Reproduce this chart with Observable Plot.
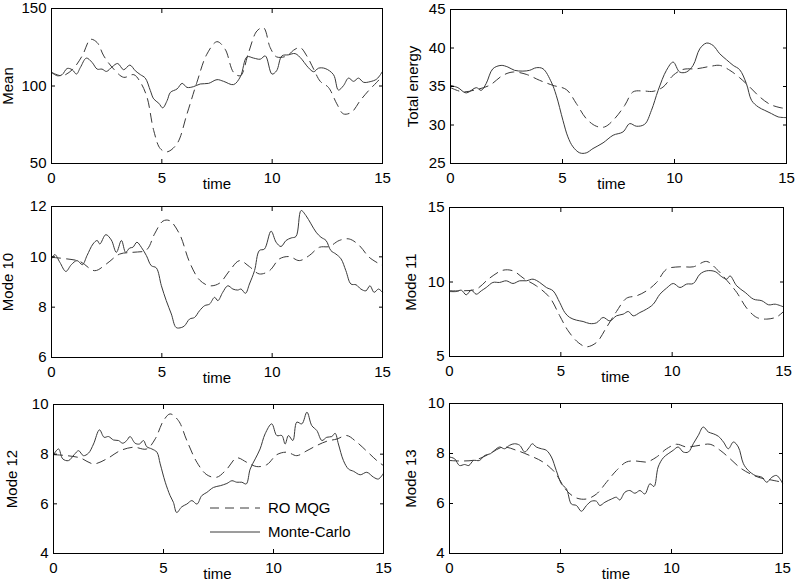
<!DOCTYPE html>
<html><head><meta charset="utf-8">
<script src="https://cdn.jsdelivr.net/npm/d3@7"></script>
<script src="https://cdn.jsdelivr.net/npm/@observablehq/plot@0.6"></script>
<style>
html,body{margin:0;padding:0;background:#fff;}
#wrap{position:relative;width:796px;height:582px;overflow:hidden;font-family:"Liberation Sans",Arial,Helvetica,sans-serif;}
.cell{position:absolute;}
.legend{position:absolute;left:210px;top:496px;font-size:15px;color:#000;line-height:24px;}
.legend div{display:flex;align-items:center;height:24px;}
.legend svg{margin-right:8px;}
</style></head><body><div id="wrap"></div>
<script>
// ---- data: [time, value] pairs ----
const timeTicks = [0, 5, 10, 15];
const seriesNames = ["RO MQG", "Monte-Carlo"];
const panelLabels = ["Mean", "Total energy", "Mode 10", "Mode 11", "Mode 12", "Mode 13"];
const meanTicks = [50, 100, 150];
const energyTicks = [25, 30, 35, 40, 45];
const mode10Ticks = [6, 8, 10, 12];
const mode11Ticks = [5, 10, 15];
const mode12Ticks = [4, 6, 8, 10];
const mode13Ticks = [4, 6, 8, 10];

const meanMC = [[0,108.8],[0.26,106.6],[0.48,107.3],[0.71,111.3],[0.94,110.5],[1.13,107.7],[1.31,112],[1.58,118],[1.84,115.2],[2.07,110.9],[2.29,110.9],[2.49,109.4],[2.75,112.4],[3.0,114.5],[3.27,110.5],[3.55,113.5],[3.8,109.8],[4.03,107.3],[4.25,105.1],[4.48,97],[4.63,91.7],[4.86,88.9],[5.04,85.9],[5.24,90.6],[5.39,95.9],[5.69,98.1],[5.92,101.7],[6.14,99.1],[6.44,99.6],[6.74,101.3],[7.12,101.7],[7.5,104.1],[7.8,103],[8.25,100.9],[8.56,106],[8.86,118.8],[9.16,118],[9.46,117.3],[9.69,119.4],[9.99,107.7],[10.2,109.8],[10.44,119.4],[10.74,120.1],[11.04,120.9],[11.34,117.3],[11.57,113],[11.88,109.2],[12.1,111.5],[12.4,111.3],[12.78,107.3],[13.0,97.4],[13.23,100.2],[13.46,105.1],[13.69,103],[13.91,105.1],[14.14,102.4],[14.44,102.8],[14.74,104.5],[15,109.4]];
const meanRO = [[0,108.8],[0.48,106.6],[0.94,110.5],[1.39,119.4],[1.77,130.1],[2.07,128],[2.37,119.4],[2.82,110.9],[3.27,105.6],[3.73,107.3],[4.03,102.4],[4.33,92.7],[4.63,71.4],[4.93,59.6],[5.24,57.5],[5.69,62.8],[6.14,82],[6.59,102.4],[7.04,120.5],[7.5,128.6],[7.87,123.7],[8.25,108.8],[8.56,106.6],[8.93,121.6],[9.31,135.5],[9.61,137.6],[9.91,124.8],[10.2,118.8],[10.67,119.4],[10.97,123.1],[11.27,124.8],[11.57,119.4],[11.88,110.9],[12.18,103],[12.55,99.1],[12.93,88.5],[13.23,82],[13.6,83.1],[13.99,90.6],[14.37,97],[14.74,102.4],[15,106.6]];

const energyMC = [[0,35.15],[0.33,34.85],[0.7,34.16],[1.15,34.85],[1.37,34.5],[1.59,35.37],[1.89,37.3],[2.26,37.74],[2.56,37.53],[2.86,37.1],[3.23,37.0],[3.53,37.1],[3.83,37.44],[4.13,37.3],[4.5,35.58],[4.72,33.86],[5.02,30.6],[5.24,28.46],[5.47,27.16],[5.77,26.38],[6.06,26.38],[6.36,26.94],[6.81,27.68],[7.26,28.67],[7.7,29.1],[8.0,30.18],[8.3,29.84],[8.67,30.1],[8.97,31.9],[9.27,34.5],[9.64,37.1],[9.94,38.17],[10.23,36.88],[10.53,36.88],[10.83,37.74],[11.13,39.9],[11.43,40.64],[11.72,40.33],[12.02,39.25],[12.32,38.48],[12.62,37.74],[12.91,37.18],[13.21,35.37],[13.44,33.2],[13.74,32.34],[14.03,31.9],[14.33,31.48],[14.63,31.05],[15,30.96]];
const energyRO = [[0,34.85],[0.55,34.3],[1.15,34.6],[1.74,35.15],[2.34,36.45],[2.79,36.88],[3.38,36.58],[3.98,35.8],[4.57,35.15],[5.17,34.6],[5.62,32.78],[6.06,30.83],[6.51,29.84],[6.88,29.75],[7.33,30.83],[7.78,32.56],[8.15,34.3],[8.6,34.42],[9.04,34.37],[9.49,34.93],[9.94,36.45],[10.38,37.22],[10.98,37.3],[11.57,37.6],[12.02,37.74],[12.47,37.1],[12.91,36.14],[13.36,34.93],[13.81,33.64],[14.26,32.69],[14.71,32.26],[15,32.13]];

const mode10MC = [[0,9.92],[0.15,10.09],[0.38,9.78],[0.65,9.42],[0.9,9.69],[1.16,9.85],[1.4,9.69],[1.61,10.05],[1.88,10.51],[2.07,10.65],[2.19,10.51],[2.46,10.88],[2.71,10.67],[2.94,10.18],[3.17,10.65],[3.36,10.18],[3.54,10.35],[3.69,10.38],[3.87,10.58],[4.07,10.38],[4.3,10.05],[4.52,9.65],[4.75,9.56],[4.98,8.85],[5.2,8.26],[5.43,7.73],[5.65,7.19],[5.88,7.19],[6.03,7.26],[6.26,7.53],[6.48,7.59],[6.71,7.86],[6.94,8.06],[7.16,8.12],[7.39,8.39],[7.54,8.26],[7.76,8.59],[7.99,8.85],[8.22,8.72],[8.44,8.68],[8.59,8.72],[8.79,8.55],[8.97,8.92],[9.2,9.45],[9.42,10.25],[9.65,10.31],[9.95,11.02],[10.18,10.58],[10.4,10.41],[10.63,10.65],[10.86,10.75],[11.08,10.81],[11.31,11.84],[11.53,11.64],[11.76,11.31],[11.99,10.98],[12.21,10.78],[12.44,10.65],[12.66,10.25],[12.89,10.11],[13.12,9.92],[13.34,9.45],[13.57,8.92],[13.8,8.89],[14.02,8.72],[14.25,8.65],[14.43,8.85],[14.62,8.59],[14.82,8.72],[15,8.59]];
const mode10RO = [[0,9.98],[0.68,9.92],[1.28,9.82],[1.96,9.45],[2.49,9.72],[3.09,10.11],[3.69,10.18],[4.3,10.27],[4.67,10.91],[5.05,11.42],[5.35,11.44],[5.8,10.91],[6.26,9.78],[6.71,9.08],[7.16,8.85],[7.61,8.95],[8.07,9.45],[8.52,9.85],[8.97,9.61],[9.42,9.32],[9.88,9.45],[10.33,9.92],[10.78,10.01],[11.23,9.85],[11.68,10.05],[12.14,10.38],[12.59,10.41],[13.04,10.65],[13.49,10.71],[13.95,10.45],[14.4,9.98],[15,9.65]];

const mode11MC = [[0,9.36],[0.3,9.36],[0.53,9.45],[0.75,9.14],[0.98,9.45],[1.2,9.18],[1.43,9.41],[1.65,9.63],[1.95,9.97],[2.25,9.97],[2.55,10.08],[2.85,9.9],[3.15,10.08],[3.45,10.08],[3.75,10.19],[4.05,9.97],[4.35,9.63],[4.65,9.41],[4.95,8.62],[5.18,7.95],[5.4,7.62],[5.7,7.44],[6.0,7.35],[6.3,7.21],[6.6,7.26],[6.9,7.62],[7.2,7.39],[7.5,7.73],[7.8,7.84],[8.03,8.02],[8.25,7.73],[8.55,7.95],[8.85,8.18],[9.15,8.51],[9.45,9.18],[9.75,9.59],[10.05,9.9],[10.35,9.63],[10.65,9.86],[10.95,9.9],[11.25,10.53],[11.55,10.75],[11.93,10.7],[12.23,10.35],[12.45,10.19],[12.6,10.41],[12.9,9.74],[13.28,9.3],[13.65,8.85],[14.03,8.74],[14.33,8.47],[14.63,8.51],[15,8.33]];
const mode11RO = [[0,9.41],[0.6,9.41],[1.2,9.52],[1.8,10.26],[2.4,10.79],[2.85,10.75],[3.38,10.19],[3.9,9.74],[4.5,8.96],[4.95,7.73],[5.33,6.72],[5.78,5.94],[6.15,5.65],[6.6,5.94],[7.05,6.95],[7.5,8.02],[7.95,8.91],[8.4,9.07],[8.85,9.41],[9.3,9.97],[9.75,10.86],[10.35,11.02],[10.95,11.02],[11.55,11.38],[12.0,10.86],[12.45,10.12],[12.9,9.3],[13.35,8.24],[13.8,7.62],[14.25,7.51],[14.7,7.66],[15,8.02]];

const mode12MC = [[0,7.98],[0.23,8.21],[0.42,7.81],[0.68,7.74],[0.94,7.98],[1.14,8.14],[1.36,7.94],[1.59,8.04],[1.82,8.41],[2.09,8.98],[2.3,8.68],[2.5,8.71],[2.73,8.57],[2.95,8.55],[3.15,8.44],[3.33,8.55],[3.48,8.71],[3.71,8.44],[3.91,8.41],[4.09,8.55],[4.24,8.3],[4.47,8.21],[4.7,8.08],[4.85,7.61],[5.08,6.87],[5.3,6.33],[5.45,6.06],[5.6,5.65],[5.83,5.88],[6.06,5.99],[6.29,6.13],[6.52,5.99],[6.74,6.33],[6.97,6.46],[7.27,6.66],[7.58,6.73],[7.88,6.82],[8.11,6.93],[8.33,6.87],[8.56,6.87],[8.76,6.8],[8.94,7.4],[9.17,7.81],[9.39,8.21],[9.62,8.82],[9.92,9.22],[10.15,8.75],[10.38,8.75],[10.53,8.41],[10.68,8.75],[10.88,8.55],[11.06,9.29],[11.29,9.22],[11.52,9.69],[11.74,9.15],[11.97,8.95],[12.2,8.55],[12.42,8.68],[12.65,8.71],[12.8,8.84],[12.95,8.41],[13.18,7.74],[13.41,7.4],[13.64,7.31],[13.94,7.17],[14.24,7.27],[14.55,7.07],[14.77,7.0],[15,7.23]];
const mode12RO = [[0,7.98],[0.61,7.94],[1.21,7.85],[1.82,7.61],[2.42,7.81],[3.03,8.14],[3.64,8.28],[4.24,8.21],[4.62,8.61],[5.0,9.35],[5.3,9.62],[5.68,9.35],[6.06,8.55],[6.52,7.67],[6.97,7.17],[7.42,7.07],[7.88,7.4],[8.33,7.85],[8.79,7.67],[9.24,7.5],[9.7,7.58],[10.15,7.98],[10.61,8.08],[11.06,7.94],[11.52,8.14],[11.97,8.35],[12.42,8.52],[12.88,8.61],[13.33,8.75],[13.79,8.48],[14.24,8.12],[14.7,7.74],[15,7.54]];

const mode13MC = [[0,7.86],[0.23,7.79],[0.45,7.52],[0.68,7.56],[0.87,7.52],[1.08,7.72],[1.35,7.72],[1.58,7.92],[1.84,7.99],[2.03,8.13],[2.26,8.26],[2.48,8.19],[2.71,8.33],[2.93,8.39],[3.16,8.33],[3.39,8.06],[3.58,8.23],[3.73,8.39],[3.91,8.26],[4.14,8.19],[4.36,8.13],[4.59,7.86],[4.81,7.32],[5.04,6.79],[5.27,6.58],[5.49,5.98],[5.72,5.92],[5.94,5.69],[6.17,5.92],[6.39,6.09],[6.62,6.09],[6.77,5.92],[7.0,6.05],[7.3,6.18],[7.52,6.25],[7.67,6.14],[7.9,6.45],[8.12,6.52],[8.35,6.41],[8.58,6.52],[8.8,6.38],[9.03,6.79],[9.21,6.68],[9.4,7.46],[9.63,7.83],[9.85,7.99],[10.08,8.13],[10.3,8.26],[10.53,8.06],[10.76,8.06],[10.98,8.39],[11.21,8.73],[11.43,9.06],[11.66,8.86],[11.88,8.79],[12.11,8.69],[12.34,8.46],[12.56,8.19],[12.79,8.46],[13.01,8.26],[13.24,7.59],[13.46,7.32],[13.77,7.12],[14.07,7.05],[14.29,6.85],[14.52,7.05],[14.74,7.12],[15,6.81]];
const mode13RO = [[0,7.72],[0.6,7.7],[1.2,7.75],[1.81,7.99],[2.41,8.26],[3.01,8.13],[3.61,7.92],[4.21,7.66],[4.74,7.25],[5.27,6.52],[5.72,6.22],[6.17,6.18],[6.62,6.38],[7.07,6.85],[7.52,7.32],[7.97,7.66],[8.42,7.7],[8.88,7.66],[9.33,7.86],[9.78,8.19],[10.23,8.37],[10.68,8.26],[11.28,8.33],[11.74,8.37],[12.19,8.13],[12.64,7.79],[13.09,7.43],[13.54,7.19],[13.99,7.03],[14.44,6.95],[15,6.85]];

// ---- layout (positions and styles) ----
const LINE = "#3a3a3a";
const DASH = "9,6";
const panels = [
  {label: panelLabels[0], ro: meanRO,   mc: meanMC,   ticks: meanTicks,   left: 0,   top: 0,   mL: 51, mR: 16, mT: 8,  mB: 31, yOff: 43, tDx: 0},
  {label: panelLabels[1], ro: energyRO, mc: energyMC, ticks: energyTicks, left: 398, top: 0,   mL: 52, mR: 10, mT: 9,  mB: 31, yOff: 37, tDx: -7},
  {label: panelLabels[2], ro: mode10RO, mc: mode10MC, ticks: mode10Ticks, left: 0,   top: 194, mL: 51, mR: 16, mT: 12, mB: 31, yOff: 43, tDx: 0},
  {label: panelLabels[3], ro: mode11RO, mc: mode11MC, ticks: mode11Ticks, left: 398, top: 194, mL: 51, mR: 13, mT: 13, mB: 32, yOff: 38, tDx: -1},
  {label: panelLabels[4], ro: mode12RO, mc: mode12MC, ticks: mode12Ticks, left: 0,   top: 388, mL: 53, mR: 15, mT: 16, mB: 29, yOff: 41, tDx: -1},
  {label: panelLabels[5], ro: mode13RO, mc: mode13MC, ticks: mode13Ticks, left: 398, top: 388, mL: 51, mR: 14, mT: 15, mB: 29, yOff: 38, tDx: 0}
];

const wrap = document.getElementById("wrap");
const blank = () => "";
const plain = d => String(d);

for (const p of panels) {
  const ro = p.ro.map(([t, v]) => ({t, v}));
  const mc = p.mc.map(([t, v]) => ({t, v}));
  const yDomain = [p.ticks[0], p.ticks[p.ticks.length - 1]];
  const chart = Plot.plot({
    width: 398, height: 194,
    marginLeft: p.mL, marginRight: p.mR, marginTop: p.mT, marginBottom: p.mB,
    style: {fontFamily: "'Liberation Sans', Arial, Helvetica, sans-serif", fontSize: "15px", background: "transparent", color: "#000", overflow: "visible"},
    x: {domain: [timeTicks[0], timeTicks[timeTicks.length - 1]]},
    y: {domain: yDomain},
    marks: [
      Plot.line(ro, {x: "t", y: "v", stroke: LINE, strokeWidth: 1, strokeDasharray: DASH, curve: "catmull-rom"}),
      Plot.line(mc, {x: "t", y: "v", stroke: LINE, strokeWidth: 1, curve: "catmull-rom"}),
      Plot.axisX({anchor: "bottom", ticks: timeTicks, tickSize: -4, tickPadding: 13, tickFormat: plain, label: null, stroke: "#000"}),
      Plot.axisX({anchor: "top", ticks: timeTicks, tickSize: -4, tickFormat: blank, label: null, stroke: "#000"}),
      Plot.axisY({anchor: "left", ticks: p.ticks, tickSize: -4, tickPadding: 9, tickFormat: plain, label: null, stroke: "#000"}),
      Plot.axisY({anchor: "right", ticks: p.ticks, tickSize: -4, tickFormat: blank, label: null, stroke: "#000"}),
      Plot.frame({stroke: "#000", strokeWidth: 1}),
      Plot.text([p.label], {frameAnchor: "left", rotate: -90, dx: -p.yOff, text: d => d, lineAnchor: "middle", textAnchor: "middle", fontSize: 15}),
      Plot.text(["time"], {frameAnchor: "bottom", dy: 21, dx: p.tDx, text: d => d, lineAnchor: "middle", fontSize: 15})
    ]
  });
  const cell = document.createElement("div");
  cell.className = "cell";
  cell.style.left = p.left + "px";
  cell.style.top = p.top + "px";
  cell.appendChild(chart);
  wrap.appendChild(cell);
}

// legend (inside the Mode 12 panel)
const legend = document.createElement("div");
legend.className = "legend";
seriesNames.forEach((name, i) => {
  const row = document.createElement("div");
  row.innerHTML = `<svg width="50" height="4" style="overflow:visible"><line x1="0" x2="50" y1="2" y2="2" stroke="${LINE}" stroke-width="1" ${i === 0 ? `stroke-dasharray="${DASH}"` : ""}/></svg><span>${name}</span>`;
  legend.appendChild(row);
});
wrap.appendChild(legend);
</script></body></html>
